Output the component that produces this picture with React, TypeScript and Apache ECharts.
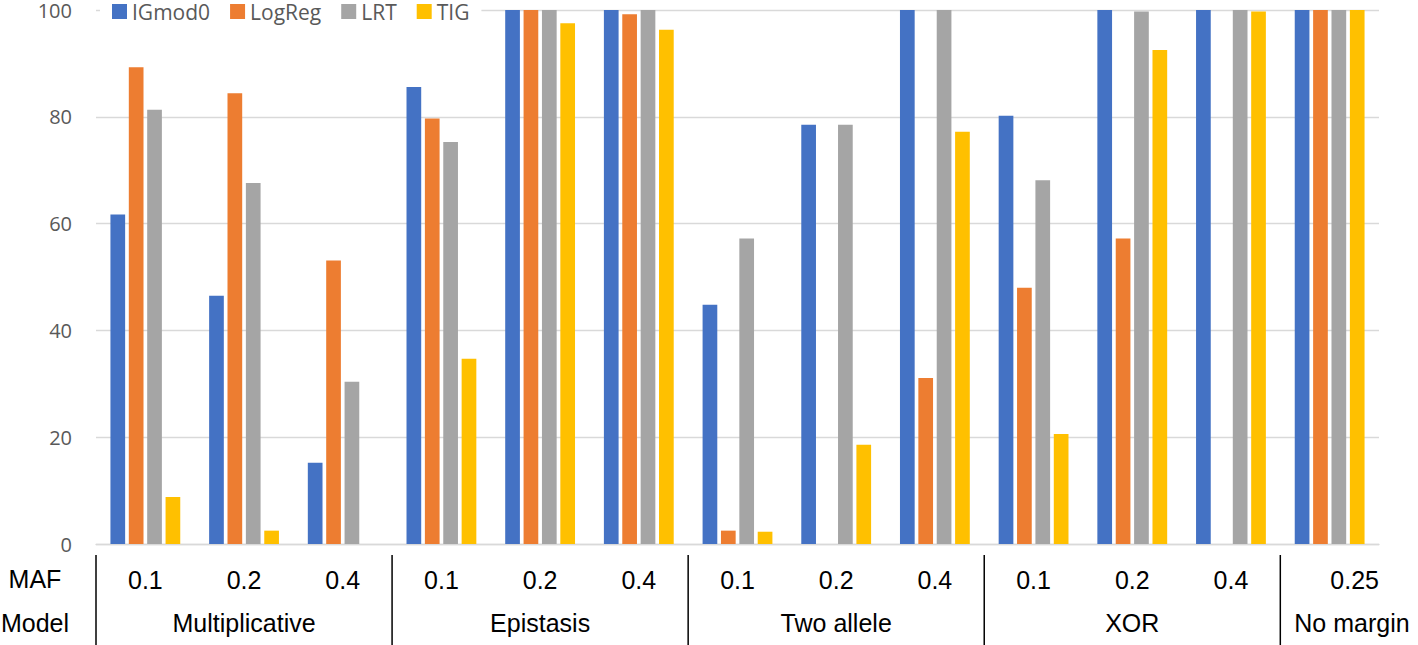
import React, { useEffect, useRef } from "react";
import * as echarts from "echarts";

// MAF labels (first row of the category axis)
const mafLabels = ["0.1", "0.2", "0.4", "0.1", "0.2", "0.4", "0.1", "0.2", "0.4", "0.1", "0.2", "0.4", "0.25"];
// Model groups (second row)
const groupNames = ["Multiplicative", "Epistasis", "Two allele", "XOR", "No margin"];
const groupSizes = [3, 3, 3, 3, 1];

const seriesNames = ["IGmod0", "LogReg", "LRT", "TIG"];
const igmod0 = [61.7, 46.5, 15.2, 85.6, 100, 100, 44.8, 78.5, 100, 80.2, 100, 100, 100];
const logReg = [89.3, 84.4, 53.1, 79.7, 100, 99.2, 2.5, 0, 31.1, 48.0, 57.2, 0, 100];
const lrt = [81.3, 67.6, 30.4, 75.3, 100, 100, 57.2, 78.5, 100, 68.1, 99.7, 100, 100];
const tig = [8.8, 2.5, 0, 34.7, 97.5, 96.3, 2.3, 18.6, 77.2, 20.6, 92.5, 99.7, 100];
const seriesValues = [igmod0, logReg, lrt, tig];
const seriesColors = ["#4472C4", "#ED7D31", "#A5A5A5", "#FFC000"];

const yMin = 0;
const yMax = 100;
const yInterval = 20;

const rowLabels = ["MAF", "Model"];

export default function App() {
  const ref = useRef<HTMLDivElement>(null);

  useEffect(() => {
    if (!ref.current) return;
    const chart = echarts.init(ref.current, null, { renderer: "svg" });
    const lastIdx = mafLabels.length - 1;
    chart.setOption({
      animation: false,
      backgroundColor: "#fff",
      grid: { left: 96, right: 39, top: 10, bottom: 101, containLabel: false, outerBoundsMode: "none" },
      legend: {
        data: seriesNames,
        left: 100,
        top: 1,
        padding: [0, 12, 0, 12],
        backgroundColor: "#fff",
        icon: "rect",
        itemWidth: 15,
        itemHeight: 15,
        itemGap: 20,
        textStyle: { fontFamily: "Open Sans", fontSize: 21, color: "#595959", lineHeight: 20 },
      },
      xAxis: {
        type: "category",
        data: mafLabels,
        axisLine: { show: true, lineStyle: { color: "#D9D9D9", width: 1.3 } },
        axisTick: { show: false },
        splitLine: { show: false },
        axisLabel: {
          interval: 0,
          margin: 23,
          color: "#000",
          fontSize: 25,
          fontFamily: "Liberation Sans",
          lineHeight: 25,
          formatter: (v: string, i: number) => (i === lastIdx ? `{s|${v}}` : v),
          rich: {
            s: { padding: [0, 0, 0, 50], fontSize: 25, fontFamily: "Liberation Sans", color: "#000", lineHeight: 25 },
          },
        },
      },
      yAxis: {
        type: "value",
        min: yMin,
        max: yMax,
        interval: yInterval,
        axisLine: { show: false },
        axisTick: { show: false },
        axisLabel: { margin: 24, color: "#595959", fontSize: 20, fontFamily: "Open Sans" },
        splitLine: { show: true, lineStyle: { color: "#D9D9D9", width: 1.3 } },
      },
      series: seriesNames.map((name, i) => ({
        name,
        type: "bar",
        data: seriesValues[i],
        barWidth: 14.7,
        barGap: "25%",
        itemStyle: { color: seriesColors[i] },
      })),
    });

    const x0 = chart.convertToPixel({ xAxisIndex: 0 }, 0) as number;
    const x1 = chart.convertToPixel({ xAxisIndex: 0 }, 1) as number;
    const w = x1 - x0;
    const left = x0 - w / 2;
    const elements: any[] = [];
    let start = 0;
    const bounds: number[] = [left];
    groupSizes.forEach((n, gi) => {
      const bx = left + start * w;
      const isLast = gi === groupSizes.length - 1;
      const cx = left + (start + n / 2) * w;
      elements.push({
        type: "text",
        x: isLast ? bx + 14 : cx,
        y: 623,
        style: {
          text: groupNames[gi],
          fontSize: 25,
          fontFamily: "Liberation Sans",
          fill: "#000",
          align: isLast ? "left" : "center",
          verticalAlign: "middle",
        },
      });
      start += n;
      if (!isLast) bounds.push(left + start * w);
    });
    bounds.forEach((bx) => {
      elements.push({
        type: "line",
        shape: { x1: bx, y1: 555, x2: bx, y2: 645 },
        style: { stroke: "#000", lineWidth: 1.5 },
      });
    });
    rowLabels.forEach((t, i) => {
      elements.push({
        type: "text",
        x: 35,
        y: i === 0 ? 579 : 623,
        style: {
          text: t,
          fontSize: 25,
          fontFamily: "Liberation Sans",
          fill: "#000",
          align: "center",
          verticalAlign: "middle",
        },
      });
    });
    chart.setOption({ graphic: elements });

    return () => chart.dispose();
  }, []);

  return <div ref={ref} style={{ position: "absolute", left: 0, top: 0, width: 1418, height: 645 }} />;
}
